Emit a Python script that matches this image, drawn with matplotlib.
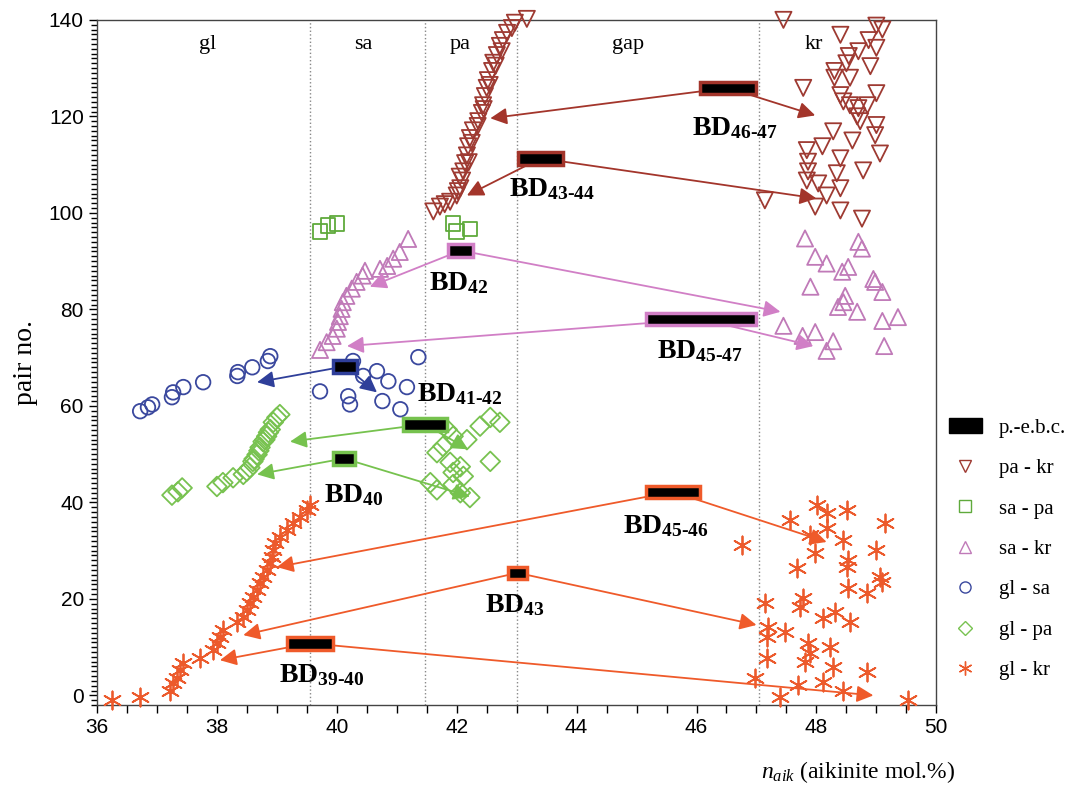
import matplotlib
matplotlib.use("Agg")
import matplotlib.pyplot as plt
import matplotlib.patches as mpatches
from matplotlib.lines import Line2D
from matplotlib.ticker import MultipleLocator

plt.rcParams['font.family'] = ['Liberation Serif', 'DejaVu Serif']
plt.rcParams['mathtext.fontset'] = 'custom'
plt.rcParams['mathtext.rm'] = 'Liberation Serif:bold'
plt.rcParams['mathtext.bf'] = 'Liberation Serif:bold'
plt.rcParams['mathtext.it'] = 'Liberation Serif:italic'

# ---- data ----
pa_kr_x = [41.61, 41.72, 41.8, 41.89, 42.0, 42.02, 42.06, 42.05, 42.09, 42.11, 42.14, 42.2, 42.17,
           42.19, 42.25, 42.22, 42.27, 42.35, 42.36, 42.42, 42.45, 42.44, 42.47, 42.5, 42.52, 42.55,
           42.59, 42.61, 42.65, 42.67, 42.72, 42.75, 42.77, 42.84, 42.92, 42.97, 43.17,
           47.45, 48.4, 49.0, 49.1, 48.87, 49.0, 48.7, 48.54, 48.5, 48.9, 48.3, 48.3, 48.56, 47.78,
           49.0, 48.4, 48.45, 48.56, 48.7, 48.85, 48.68, 48.73, 48.28, 49.0, 48.98, 48.6, 48.1,
           47.84, 49.06, 47.86, 48.4, 48.78, 47.86, 48.34, 47.84, 48.03, 48.17, 48.4, 47.98, 48.4,
           48.76, 47.14]
pa_kr_y = [100.3, 101.3, 101.8, 102.3, 103.6, 104.5, 105.1, 107.5, 106.7, 108.6, 110.3, 110.5, 111.9,
           113.8, 114.5, 115.5, 117.1, 118.0, 119.0, 120.7, 121.5, 122.3, 124.2, 125.9, 127.5, 126.5,
           129.4, 131.1, 130.5, 132.7, 134.6, 133.5, 135.8, 137.3, 138.3, 139.4, 140.2,
           140.0, 136.9, 138.8, 138.0, 135.8, 134.2, 133.5, 132.5, 131.0, 130.4, 129.4, 128.0, 128.0, 125.9,
           124.8, 124.4, 123.1, 122.3, 121.7, 122.3, 120.0, 119.0, 116.9, 118.2, 116.1, 115.0, 113.8,
           113.0, 112.3, 110.6, 111.3, 108.8, 108.6, 108.2, 106.7, 106.1, 103.6, 105.1, 101.3, 100.5,
           98.8, 102.6]

sa_pa_x = [39.72, 39.85, 40.0, 41.94, 42.0, 42.22]
sa_pa_y = [96.1, 97.4, 97.8, 97.8, 96.1, 96.7]

sa_kr_x = [39.72, 39.83, 39.93, 40.0, 40.02, 40.05, 40.08, 40.1, 40.16, 40.25, 40.33, 40.43, 40.47,
           40.72, 40.84, 40.94, 41.05, 41.19,
           47.81, 48.7, 48.76, 47.98, 48.17, 48.43, 48.53, 48.95, 48.98, 49.1, 47.9, 48.48, 48.45,
           48.36, 48.68, 49.1, 49.36, 47.45, 47.77, 47.98, 48.28, 48.17, 49.13]
sa_kr_y = [71.6, 73.2, 74.5, 76.0, 77.4, 78.6, 80.1, 81.5, 82.8, 84.3, 85.7, 87.0, 88.0,
           88.4, 89.0, 90.5, 91.9, 94.6,
           94.7, 94.0, 92.6, 90.9, 89.5, 87.8, 88.8, 86.3, 85.7, 83.6, 84.7, 82.8, 81.5,
           80.5, 79.5, 77.6, 78.4, 76.6, 74.5, 75.3, 73.4, 71.4, 72.4]

gl_sa_x = [36.72, 36.85, 36.92, 37.25, 37.27, 37.44, 37.77, 38.34, 38.35, 38.59, 38.85, 38.89,
           39.72, 40.27, 40.19, 40.22, 40.44, 40.67, 40.86, 41.17, 40.76, 41.06, 41.36]
gl_sa_y = [58.9, 59.7, 60.3, 61.8, 62.8, 63.9, 64.9, 66.2, 67.0, 68.0, 69.3, 70.3,
           63.0, 69.3, 62.0, 60.3, 66.2, 67.2, 65.1, 63.9, 61.0, 59.3, 70.1]

gl_pa_x = [37.25, 37.35, 37.42, 38.0, 38.1, 38.27, 38.44, 38.5, 38.55, 38.6, 38.62, 38.67, 38.7,
           38.72, 38.77, 38.8, 38.83, 38.86, 38.89, 38.94, 39.0, 39.05,
           41.84, 41.94, 42.17, 42.39, 42.56, 42.72, 41.67, 41.77, 41.89, 42.06, 42.56, 41.94,
           42.11, 41.56, 41.67, 41.94, 42.22, 42.06]
gl_pa_y = [41.5, 42.2, 43.0, 43.3, 44.1, 45.1, 45.8, 46.5, 47.2, 48.5, 49.0, 49.9, 50.7,
           51.4, 52.6, 53.0, 53.7, 54.5, 55.1, 56.6, 57.6, 58.2,
           55.1, 53.7, 53.0, 55.8, 57.6, 56.6, 50.3, 51.6, 48.3, 47.4, 48.5, 46.2,
           45.4, 44.1, 42.6, 43.7, 41.0, 42.0]

gl_kr_x = [36.25, 36.72, 37.22, 37.27, 37.33, 37.38, 37.44, 37.72, 37.94, 38.0, 38.05, 38.1, 38.33,
           38.44, 38.5, 38.55, 38.6, 38.67, 38.72, 38.77, 38.83, 38.89, 38.92, 38.94, 38.97, 39.05,
           39.17, 39.27, 39.39, 39.5, 39.55,
           48.01, 48.18, 48.51, 47.56, 49.15, 48.18, 47.9, 48.45, 46.76, 49.0, 47.98, 48.53, 48.51,
           47.68, 49.06, 49.1, 48.53, 48.85, 47.78, 47.15, 47.73, 48.31, 48.11, 48.56, 47.2, 47.48,
           47.18, 47.86, 48.23, 47.9, 47.18, 47.81, 48.28, 48.85, 46.98, 48.11, 47.7, 48.45, 47.4,
           49.53]
gl_kr_y = [-1.0, -0.4, 1.0, 2.5, 3.7, 5.2, 6.7, 7.7, 9.4, 10.8, 12.1, 13.5, 15.2,
           16.2, 17.7, 19.1, 20.4, 21.8, 23.3, 24.5, 26.0, 27.5, 28.7, 30.2, 31.6, 32.9,
           34.3, 35.8, 37.0, 38.5, 39.5,
           39.5, 37.9, 38.5, 36.4, 35.8, 34.7, 33.3, 32.2, 31.2, 30.2, 29.5, 28.1, 26.6,
           26.4, 24.5, 23.5, 22.3, 21.2, 20.2, 19.1, 18.3, 17.3, 16.0, 15.2, 14.1, 13.1,
           12.1, 10.8, 10.0, 8.7, 7.7, 6.9, 5.8, 4.8, 3.7, 2.7, 2.1, 1.0, -0.4,
           -1.0]

# boxes: x start, x end, y, colour, arrow targets, label, label position
box_x0 = [46.05, 43.02, 41.86, 45.15, 39.94, 41.10, 39.94, 45.15, 42.86, 39.17]
box_x1 = [47.00, 43.78, 42.27, 47.00, 40.34, 41.84, 40.30, 46.06, 43.17, 39.94]
box_y = [125.9, 111.3, 92.2, 78.0, 68.2, 56.2, 49.1, 42.2, 25.4, 10.8]
box_col = ['#a3352b', '#a3352b', '#d17fc6', '#d17fc6', '#2f3f9a', '#76c24e', '#76c24e',
           '#ef5a2a', '#ef5a2a', '#ef5a2a']
box_targets = [[(42.56, 119.6), (47.98, 120.2)],
               [(42.17, 103.6), (48.0, 103.0)],
               [(40.55, 84.7), (47.4, 79.5)],
               [(40.17, 72.4), (47.95, 72.4)],
               [(38.67, 64.9), (40.67, 62.8)],
               [(39.22, 52.6), (42.19, 51.0)],
               [(38.67, 45.8), (42.22, 41.2)],
               [(39.0, 26.6), (48.17, 31.8)],
               [(38.44, 12.5), (47.0, 14.6)],
               [(38.05, 7.3), (48.95, 0.0)]]
box_sub = ['46-47', '43-44', '42', '45-47', None, '41-42', '40', '45-46', '43', '39-40']
label_xy = [(45.93, 117.5), (42.87, 105.0), (41.53, 85.5), (45.34, 71.4), None, (41.34, 62.4),
            (39.78, 41.6), (44.78, 35.0), (42.48, 18.7), (39.03, 4.2)]

region_names = ['gl', 'sa', 'pa', 'gap', 'kr']
region_x = [37.85, 40.45, 42.05, 44.85, 47.95]
bounds = [39.55, 41.47, 43.0, 47.05]

fig = plt.figure(figsize=(10.9, 7.94), dpi=100)
ax = fig.add_axes([0.089, 0.112, 0.770, 0.863])

ax.scatter(pa_kr_x, pa_kr_y, marker='v', s=135, facecolors='none', edgecolors='#9e3a32',
           linewidths=1.3, zorder=3, clip_on=False)
ax.scatter(sa_pa_x, sa_pa_y, marker='s', s=110, facecolors='none', edgecolors='#5faa3c',
           linewidths=1.3, zorder=3)
ax.scatter(sa_kr_x, sa_kr_y, marker='^', s=135, facecolors='none', edgecolors='#c07ab8',
           linewidths=1.3, zorder=3)
ax.scatter(gl_sa_x, gl_sa_y, marker='o', s=110, facecolors='none', edgecolors='#3a489e',
           linewidths=1.3, zorder=3)
ax.scatter(gl_pa_x, gl_pa_y, marker='D', s=100, facecolors='none', edgecolors='#78c250',
           linewidths=1.3, zorder=3)
ax.scatter(gl_kr_x, gl_kr_y, marker=(6, 2, 0), s=170, color='#ec5a2c',
           linewidths=1.3, zorder=3, clip_on=False)

for b in bounds:
    ax.axvline(b, color='#888888', ls=':', lw=1, zorder=1)
for name, rx in zip(region_names, region_x):
    ax.text(rx, 134.8, name, ha='center', va='center', fontsize=16)

for i in range(len(box_y)):
    xc = (box_x0[i] + box_x1[i]) / 2
    for tx, ty in box_targets[i]:
        ax.annotate('', xy=(tx, ty), xytext=(xc, box_y[i]),
                    arrowprops=dict(arrowstyle='-|>', color=box_col[i], lw=1.3,
                                    mutation_scale=25, shrinkA=0, shrinkB=0), zorder=4)
    ax.add_patch(mpatches.Rectangle((box_x0[i], box_y[i] - 1.3), box_x1[i] - box_x0[i], 2.6,
                                    facecolor='black', edgecolor=box_col[i], lw=2.5, zorder=5))
    if box_sub[i]:
        lx, ly = label_xy[i]
        ax.text(lx, ly, r'$\mathrm{BD}_{\text{' + box_sub[i] + '}}$', fontsize=20,
                ha='left', va='center', zorder=6)

ax.set_xlim(36, 50)
ax.set_ylim(-2, 140)
ax.xaxis.set_major_locator(MultipleLocator(2))
ax.xaxis.set_minor_locator(MultipleLocator(0.5))
ax.yaxis.set_major_locator(MultipleLocator(20))
ax.yaxis.set_minor_locator(MultipleLocator(1))
ax.tick_params(which='both', direction='out', top=False, right=False, length=6, width=1)
ax.tick_params(which='minor', axis='y', length=4)
for lab in ax.get_xticklabels() + ax.get_yticklabels():
    lab.set_family(['Liberation Sans Narrow', 'Liberation Sans'])
    lab.set_fontsize(15)
for sp in ax.spines.values():
    sp.set_color('#444444')
    sp.set_linewidth(1)

ax.set_ylabel('pair no.', fontsize=20, labelpad=8)
fig.text(0.876, 0.028, r'$n_{aik}$ (aikinite mol.%)', ha='right', va='center', fontsize=17)

handles = [mpatches.Patch(facecolor='black', edgecolor='black'),
           Line2D([], [], ls='none', marker='v', mfc='none', mec='#9e3a32', ms=8),
           Line2D([], [], ls='none', marker='s', mfc='none', mec='#5faa3c', ms=8),
           Line2D([], [], ls='none', marker='^', mfc='none', mec='#c07ab8', ms=8),
           Line2D([], [], ls='none', marker='o', mfc='none', mec='#3a489e', ms=8),
           Line2D([], [], ls='none', marker='D', mfc='none', mec='#78c250', ms=7),
           Line2D([], [], ls='none', marker=(6, 2, 0), color='#ec5a2c', ms=10)]
labels = ['p.-e.b.c.', 'pa - kr', 'sa - pa', 'sa - kr', 'gl - sa', 'gl - pa', 'gl - kr']
fig.legend(handles, labels, loc='upper left', bbox_to_anchor=(0.853, 0.497), frameon=False,
           fontsize=15, labelspacing=1.0, handlelength=1.6)

fig.savefig('out.png', dpi=100)
